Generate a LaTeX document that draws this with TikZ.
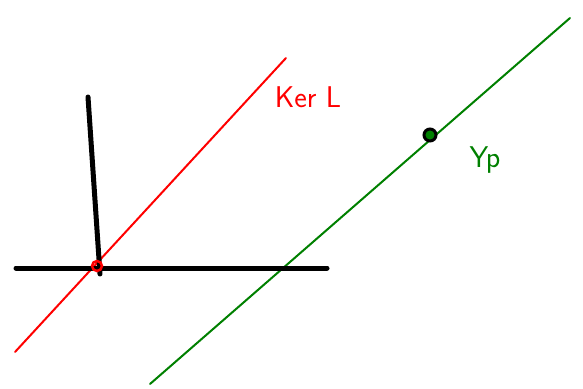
\documentclass[tikz,border=0pt]{standalone}
\usepackage{fontspec}
\setmainfont{DejaVu Sans}
\begin{document}
\begin{tikzpicture}[x=1pt,y=-1pt,
  blackline/.style={line width=5pt,black,line cap=round},
  redline/.style={line width=2pt,red,line cap=round},
  greenline/.style={line width=2pt,green!50!black,line cap=round},
  lbl/.style={font=\fontsize{30}{30}\selectfont\sffamily, inner sep=0pt}]
\useasboundingbox (0,0) rectangle (583,388);
\coordinate (r1) at (15,352);
\coordinate (r2) at (286,58);
\coordinate (h1) at (16,268);
\coordinate (h2) at (327,268);
\coordinate (v1) at (88,97);
\coordinate (v2) at (100,274);
\coordinate (g1) at (150,384);
\coordinate (g2) at (570,18);
\draw[redline] (r1) -- (r2);
\draw[greenline] (g1) -- (g2);
\draw[blackline] (h1) -- (h2);
\draw[blackline] (v1) -- (v2);
\node[circle, draw=red, line width=2.5pt, minimum size=10pt, inner sep=0pt] (o) at (97,266) {};
\node[circle, draw=black, fill=green!50!black, line width=3pt, minimum size=12pt, inner sep=0pt] (p) at (430,135) {};
\node[lbl, text=red] (ker) at (308,97) {Ker L};
\node[lbl, text=green!50!black] (yp) at (485,160) {Yp};
\end{tikzpicture}
\end{document}
